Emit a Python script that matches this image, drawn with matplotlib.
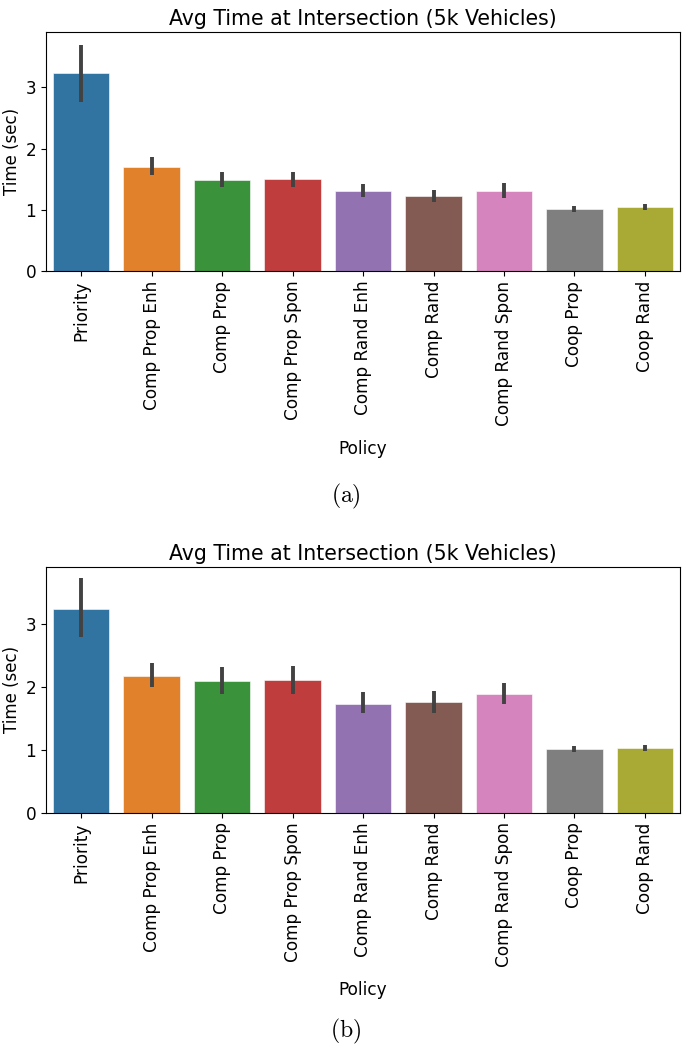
import matplotlib
matplotlib.use("Agg")
import matplotlib.pyplot as plt

plt.rcParams["mathtext.fontset"] = "cm"

policies = ["Priority", "Comp Prop Enh", "Comp Prop", "Comp Prop Spon",
            "Comp Rand Enh", "Comp Rand", "Comp Rand Spon", "Coop Prop", "Coop Rand"]

# (a) mean time and CI bounds
mean_a = [3.24, 1.70, 1.48, 1.50, 1.31, 1.23, 1.31, 1.01, 1.04]
low_a = [2.77, 1.57, 1.37, 1.38, 1.21, 1.13, 1.19, 0.96, 0.99]
high_a = [3.70, 1.86, 1.62, 1.62, 1.42, 1.33, 1.44, 1.06, 1.09]

# (b)
mean_b = [3.24, 2.17, 2.09, 2.11, 1.73, 1.75, 1.89, 1.01, 1.03]
low_b = [2.79, 2.00, 1.88, 1.89, 1.58, 1.58, 1.72, 0.97, 0.98]
high_b = [3.73, 2.37, 2.31, 2.33, 1.91, 1.93, 2.06, 1.06, 1.08]

colors = ["#3274a1", "#e1812c", "#3a923a", "#c03d3e", "#9372b2",
          "#845b53", "#d684bd", "#7f7f7f", "#a9aa35"]

fig = plt.figure(figsize=(6.85, 10.46), dpi=100)
ax_a = fig.add_axes([0.067, 0.741, 0.926, 0.228])
ax_b = fig.add_axes([0.067, 0.223, 0.926, 0.235])


def draw(ax, mean, low, high):
    x = range(len(policies))
    ax.bar(x, mean, width=0.8, color=colors, edgecolor="white", linewidth=0.4)
    ax.vlines(x, low, high, color="#424242", linewidth=2.8)
    ax.set_xlim(-0.5, len(policies) - 0.5)
    ax.set_ylim(0, 3.9)
    ax.set_yticks([0, 1, 2, 3])
    ax.set_xticks(list(x))
    ax.set_xticklabels(policies, rotation=90, fontsize=12.2)
    ax.tick_params(axis="y", labelsize=12.2)
    ax.set_title("Avg Time at Intersection (5k Vehicles)", fontsize=14.8, pad=5)
    ax.set_ylabel("Time (sec)", fontsize=12, labelpad=3)
    ax.set_xlabel("Policy", fontsize=12.2, labelpad=10)


draw(ax_a, mean_a, low_a, high_a)
draw(ax_b, mean_b, low_b, high_b)

fig.text(0.505, 0.520, r"$\mathrm{(a)}$", ha="center", fontsize=17)
fig.text(0.505, 0.008, r"$\mathrm{(b)}$", ha="center", fontsize=17)

fig.savefig("out.png", dpi=100)
